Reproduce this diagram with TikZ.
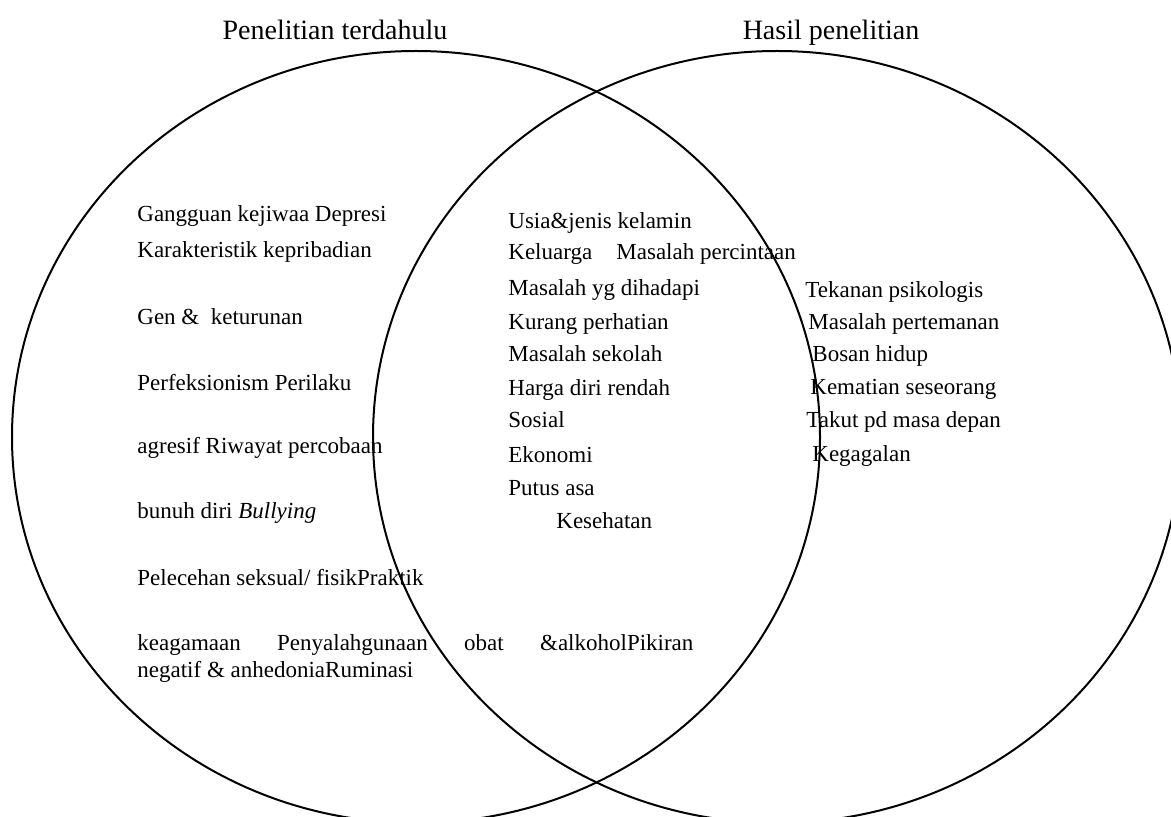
\documentclass[tikz,border=0pt]{standalone}
\usepackage{fontspec}
\setmainfont{Liberation Serif}
\begin{document}
\begin{tikzpicture}[x=0.5pt,y=-0.5pt,
  venn/.style={line width=1pt},
  item/.style={anchor=base west,inner sep=0pt,font=\fontsize{11.5}{13.5}\selectfont},
  ttl/.style={anchor=base,inner sep=0pt,font=\fontsize{14}{16}\selectfont}]
\useasboundingbox (0,0) rectangle (1171,817);
\draw[venn] (416,437) ellipse [x radius=202pt, y radius=193pt];
\draw[venn] (777,437) ellipse [x radius=202pt, y radius=193pt];
\node[ttl] (t1) at (335,40) {Penelitian terdahulu};
\node[ttl] (t2) at (831,40) {Hasil penelitian};
% left column
\node[item] (l1) at (137,222) {Gangguan kejiwaa Depresi};
\node[item] (l2) at (137,258) {Karakteristik kepribadian};
\node[item] (l3) at (137,325) {Gen \&\ \ keturunan};
\node[item] (l4) at (137,391) {Perfeksionism Perilaku};
\node[item] (l5) at (137,453) {agresif Riwayat percobaan};
\node[item] (l6) at (137,518) {bunuh diri \textit{Bullying}};
\node[item] (l7) at (137,585) {Pelecehan seksual/ fisikPraktik};
\node[item] (l8) at (137,650) {\hbox to 278pt{keagamaan\hfill Penyalahgunaan\hfill obat\hfill \&alkoholPikiran}};
\node[item] (l9) at (137,677) {negatif \& anhedoniaRuminasi};
% middle column
\node[item] (m1) at (508,229) {Usia\&jenis kelamin};
\node[item] (m2) at (508,260) {Keluarga};
\node[item] (m2b) at (616,260) {Masalah percintaan};
\node[item] (m3) at (508,296) {Masalah yg dihadapi};
\node[item] (m4) at (508,330) {Kurang perhatian};
\node[item] (m5) at (508,362) {Masalah sekolah};
\node[item] (m6) at (508,396) {Harga diri rendah};
\node[item] (m7) at (508,428) {Sosial};
\node[item] (m8) at (508,462) {Ekonomi};
\node[item] (m9) at (508,495) {Putus asa};
\node[item] (m10) at (556,528) {Kesehatan};
% right column
\node[item] (r1) at (805,298) {Tekanan psikologis};
\node[item] (r2) at (808,330) {Masalah pertemanan};
\node[item] (r3) at (812,362) {Bosan hidup};
\node[item] (r4) at (810,395) {Kematian seseorang};
\node[item] (r5) at (806,428) {Takut pd masa depan};
\node[item] (r6) at (812,461) {Kegagalan};
\end{tikzpicture}
\end{document}
